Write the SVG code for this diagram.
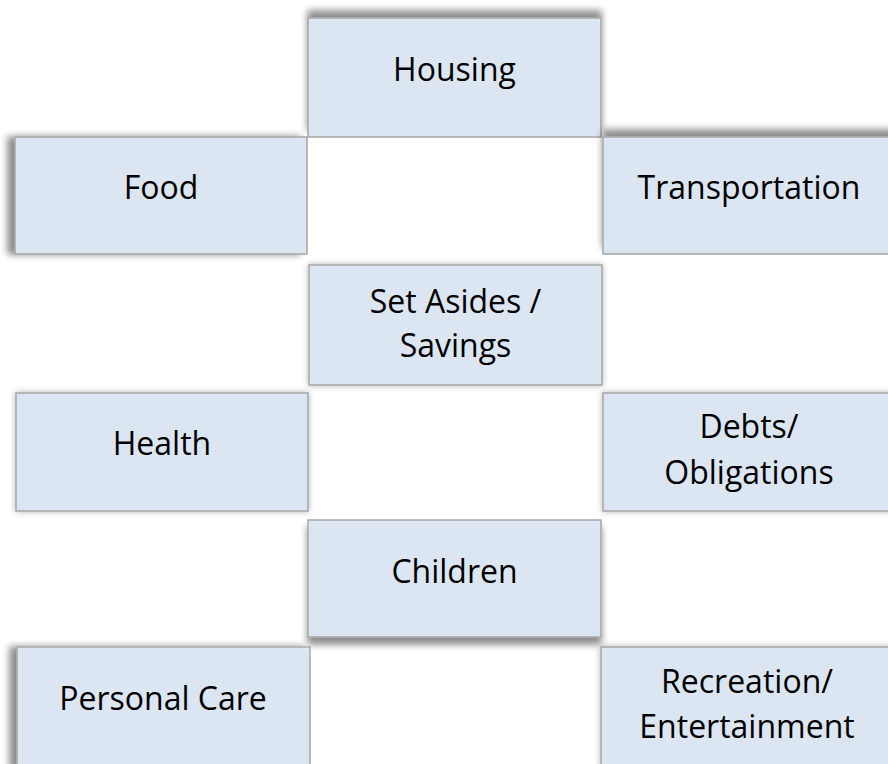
<svg xmlns="http://www.w3.org/2000/svg" width="888" height="764" viewBox="0 0 888 764">
  <defs>
    <style>
      .box { fill: #dce6f2; stroke: #a6a6a6; stroke-width: 1.5; }
      .label { font-family: "Open Sans", "Noto Sans", "Liberation Sans", sans-serif; font-size: 32px; fill: #000000; text-anchor: middle; }
    </style>
    <!-- drop shadows cast in different directions -->
    <filter id="shTop" x="-10%" y="-30%" width="120%" height="160%">
      <feGaussianBlur in="SourceAlpha" stdDeviation="3.5"/>
      <feOffset dx="0" dy="-7"/>
      <feComponentTransfer><feFuncA type="linear" slope="0.45"/></feComponentTransfer>
      <feMerge><feMergeNode/><feMergeNode in="SourceGraphic"/></feMerge>
    </filter>
    <filter id="shLeft" x="-20%" y="-20%" width="140%" height="140%">
      <feGaussianBlur in="SourceAlpha" stdDeviation="3.5"/>
      <feOffset dx="-7" dy="0"/>
      <feComponentTransfer><feFuncA type="linear" slope="0.45"/></feComponentTransfer>
      <feMerge><feMergeNode/><feMergeNode in="SourceGraphic"/></feMerge>
    </filter>
    <filter id="shBottom" x="-10%" y="-30%" width="120%" height="160%">
      <feGaussianBlur in="SourceAlpha" stdDeviation="3.5"/>
      <feOffset dx="0" dy="7"/>
      <feComponentTransfer><feFuncA type="linear" slope="0.45"/></feComponentTransfer>
      <feMerge><feMergeNode/><feMergeNode in="SourceGraphic"/></feMerge>
    </filter>
    <filter id="shGlow" x="-10%" y="-20%" width="120%" height="140%">
      <feGaussianBlur in="SourceAlpha" stdDeviation="3"/>
      <feComponentTransfer><feFuncA type="linear" slope="0.3"/></feComponentTransfer>
      <feMerge><feMergeNode/><feMergeNode in="SourceGraphic"/></feMerge>
    </filter>
  </defs>

  <rect width="888" height="764" fill="#ffffff"/>

  <g id="connectors"/>

  <g id="housing">
    <rect class="box" x="308" y="18" width="293" height="119" filter="url(#shTop)"/>
    <text class="label" x="454.5" y="81">Housing</text>
  </g>

  <g id="food">
    <rect class="box" x="15" y="137" width="292" height="117" filter="url(#shLeft)"/>
    <text class="label" x="161" y="199">Food</text>
  </g>

  <g id="transportation">
    <rect class="box" x="603" y="137" width="292" height="117" filter="url(#shTop)"/>
    <text class="label" x="749" y="199">Transportation</text>
  </g>

  <g id="set-asides">
    <rect class="box" x="309" y="265" width="293" height="120" filter="url(#shGlow)"/>
    <text class="label" x="455.5" y="313">Set Asides /</text>
    <text class="label" x="455.5" y="357">Savings</text>
  </g>

  <g id="health">
    <rect class="box" x="16" y="393" width="292" height="118" filter="url(#shGlow)"/>
    <text class="label" x="162" y="455">Health</text>
  </g>

  <g id="debts">
    <rect class="box" x="603" y="393" width="292" height="118" filter="url(#shGlow)"/>
    <text class="label" x="749" y="438">Debts/</text>
    <text class="label" x="749" y="484">Obligations</text>
  </g>

  <g id="children">
    <rect class="box" x="308" y="520" width="293" height="117" filter="url(#shBottom)"/>
    <text class="label" x="454.5" y="583">Children</text>
  </g>

  <g id="personal-care">
    <rect class="box" x="17" y="647" width="293" height="122" filter="url(#shLeft)"/>
    <text class="label" x="163" y="710">Personal Care</text>
  </g>

  <g id="recreation">
    <rect class="box" x="601" y="647" width="293" height="122" filter="url(#shGlow)"/>
    <text class="label" x="747" y="693">Recreation/</text>
    <text class="label" x="747" y="738">Entertainment</text>
  </g>
</svg>
